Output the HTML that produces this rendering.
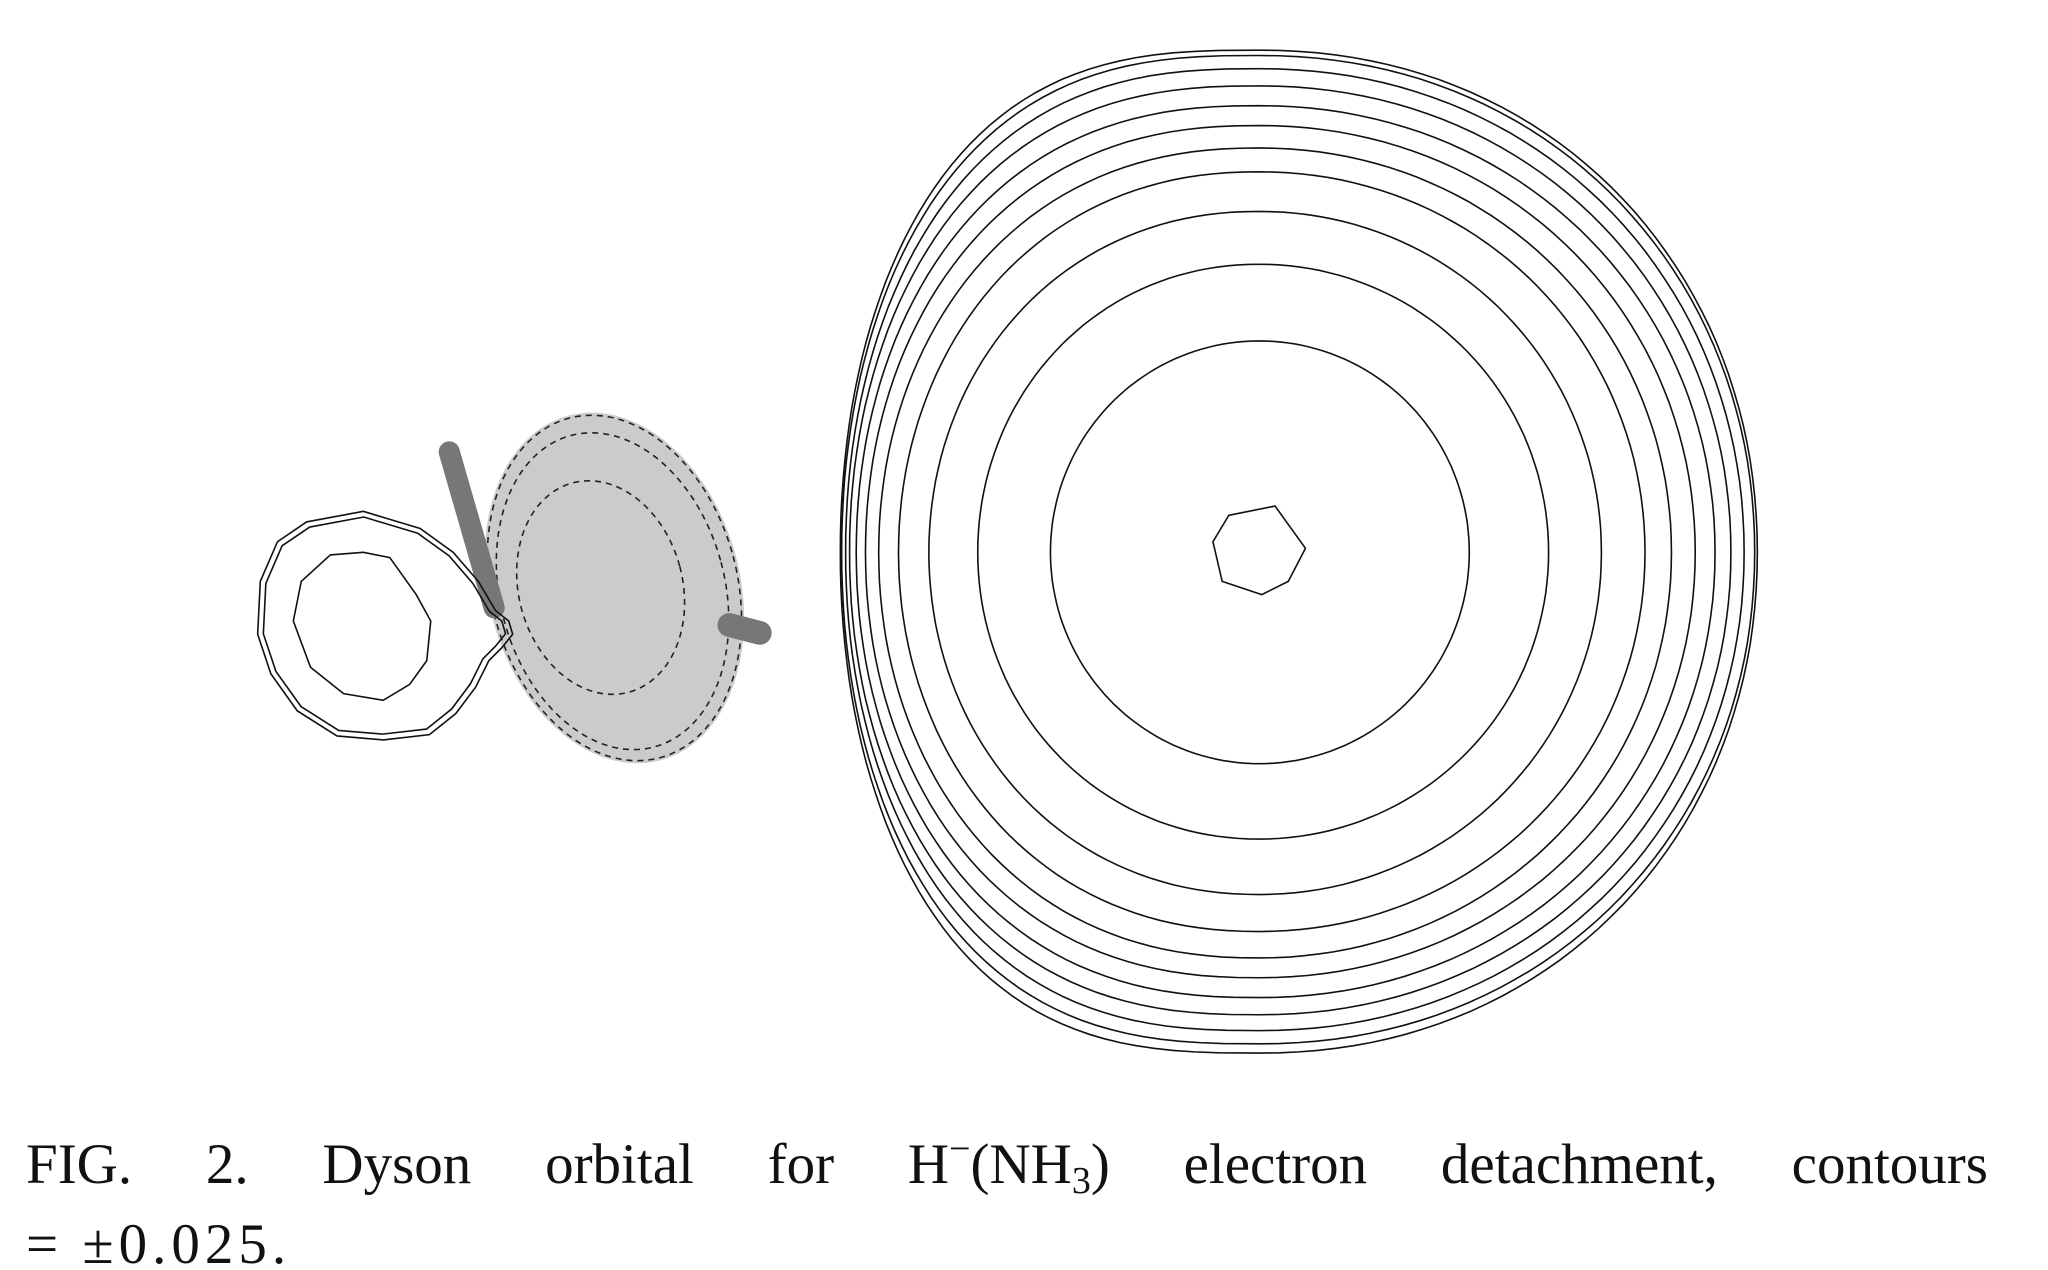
<!DOCTYPE html>
<html><head><meta charset="utf-8">
<style>
html,body{margin:0;padding:0;background:#fff;}
#wrap{position:relative;width:2048px;height:1270px;overflow:hidden;background:#fff;}
svg{position:absolute;left:0;top:0;}
.cap{position:absolute;left:26px;width:1962px;font-family:"Liberation Serif",serif;font-size:57px;color:#111;white-space:nowrap;}
#l1{top:1132px;display:flex;justify-content:space-between;}
#l2{top:1212px;letter-spacing:5px;}
sub{font-size:38px;vertical-align:-10px;line-height:0;}
sup{font-size:38px;vertical-align:22px;line-height:0;}
</style></head>
<body>
<div id="wrap">
<svg id="fig" width="2048" height="1270" viewBox="0 0 2048 1270">
 <g id="root" transform="scale(1.3213)">
  <g transform="rotate(-15 465 445)">
   <ellipse cx="465" cy="445" rx="95" ry="135" fill="#cbcbcb"/>
   <ellipse cx="465" cy="445" rx="93" ry="133" fill="none" stroke="#222" stroke-dasharray="6 5" vector-effect="non-scaling-stroke" stroke-width="1.6"/>
   <ellipse cx="463" cy="447" rx="85" ry="122" fill="none" stroke="#222" stroke-dasharray="6 5" vector-effect="non-scaling-stroke" stroke-width="1.6"/>
   <ellipse cx="455" cy="442" rx="62" ry="82" fill="none" stroke="#222" stroke-dasharray="6 5" vector-effect="non-scaling-stroke" stroke-width="1.6"/>
  </g>
  <line x1="340" y1="342" x2="374" y2="460" stroke="#777" stroke-width="16" stroke-linecap="round"/>
  <line x1="552" y1="473" x2="575" y2="479" stroke="#777" stroke-width="18" stroke-linecap="round"/>
  <g id="leftring"></g>
  <g id="rings"></g>
 </g>
</svg>
<div class="cap" id="l1"><span>FIG.</span><span>2.</span><span>Dyson</span><span>orbital</span><span>for</span><span>H<sup>−</sup>(NH<sub>3</sub>)</span><span>electron</span><span>detachment,</span><span>contours</span></div>
<div class="cap" id="l2">= ±0.025.</div>
</div>
<script>
// Contour ring extents (display units) from innermost to outermost
const ringLeft   = [795, 740, 703, 680, 665, 655, 648, 643, 640, 637, 636];
const ringRight  = [1112,1172,1212,1245,1265,1283,1298,1310,1320,1328,1330];
const ringTop    = [258, 200, 160, 130, 112, 95, 80, 65, 52, 42, 38];
const ringBottom = [578, 635, 677, 705, 725, 740, 755, 768, 780, 790, 797];
const hexX = [930, 965, 988, 975, 955, 925, 918];
const hexY = [390, 383, 415, 440, 450, 440, 410];
const smallOuterX = [197,210,232,275,318,343,362,375,385,388,380,370,360,345,325,290,255,225,205,195];
const smallOuterY = [440,410,395,387,400,418,440,462,470,480,490,500,520,540,556,560,557,538,510,480];
const smallInnerX = [222,228,250,275,295,315,326,323,310,290,260,235];
const smallInnerY = [470,440,420,418,422,450,470,500,518,530,525,505];

const NS = "http://www.w3.org/2000/svg";
const rings = document.getElementById('rings');
const cx = 953, cy = 418;
function pw(v,p){return Math.sign(v)*Math.pow(Math.abs(v),p);}
for (let i = 0; i < ringLeft.length; i++) {
  const f = i / (ringLeft.length - 1);
  const pL = 1 - 0.3 * f, pR = 1 - 0.05 * f, pY = 1 - 0.03 * f;
  let d = "";
  for (let k = 0; k <= 180; k++) {
    const t = k / 180 * 2 * Math.PI;
    const c = Math.cos(t), s = Math.sin(t);
    const x = c < 0 ? cx + (cx - ringLeft[i]) * pw(c, pL) : cx + (ringRight[i] - cx) * pw(c, pR);
    const y = s < 0 ? cy + (cy - ringTop[i]) * pw(s, pY) : cy + (ringBottom[i] - cy) * pw(s, pY);
    d += (k ? "L" : "M") + x.toFixed(1) + " " + y.toFixed(1);
  }
  const p = document.createElementNS(NS, 'path');
  p.setAttribute('d', d + "Z");
  p.setAttribute('fill', 'none');
  p.setAttribute('stroke', '#111');
  p.setAttribute('stroke-width', '1.6');
  p.setAttribute('vector-effect', 'non-scaling-stroke');
  
  
  rings.appendChild(p);
}
function poly(xs, ys, parent, name, sc, ccx, ccy) {
  const pts = xs.map((x, j) => (ccx + (x - ccx) * sc).toFixed(1) + "," + (ccy + (ys[j] - ccy) * sc).toFixed(1)).join(" ");
  const p = document.createElementNS(NS, 'polygon');
  p.setAttribute('points', pts);
  p.setAttribute('fill', 'none');
  p.setAttribute('stroke', '#111');
  p.setAttribute('stroke-width', '1.6');
  p.setAttribute('vector-effect', 'non-scaling-stroke');
  
  
  parent.appendChild(p);
}
poly(hexX, hexY, rings, 'center-contour', 1, 0, 0);
const lr = document.getElementById('leftring');
poly(smallOuterX, smallOuterY, lr, 'small-contour-outer', 1, 0, 0);
poly(smallOuterX, smallOuterY, lr, 'small-contour-second', 0.95, 280, 472);
poly(smallInnerX, smallInnerY, lr, 'small-contour-inner', 1, 0, 0);
</script>
</body></html>
